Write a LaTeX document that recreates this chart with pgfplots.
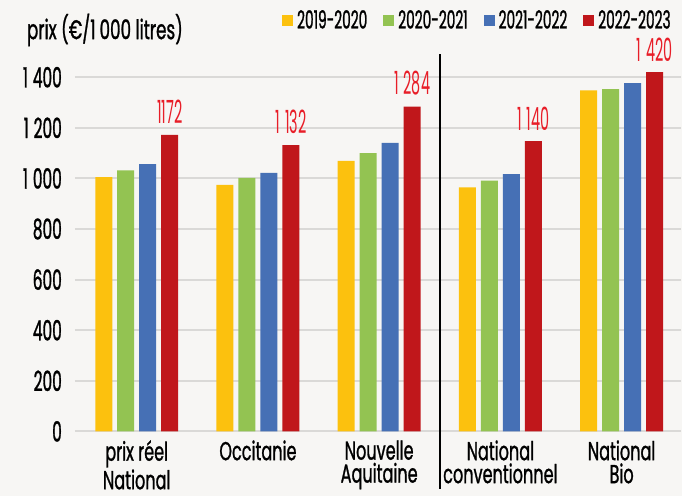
\documentclass[border=0pt]{standalone}
\usepackage{pgfplots}
\pgfplotsset{compat=1.18}
\usepackage{fontspec}
\setmainfont{Poppins}[FakeStretch=0.62, FakeBold=1]
\newfontfamily\numfont{Poppins}[FakeStretch=0.55, FakeBold=1]
\newfontfamily\labfont{Poppins}[FakeStretch=0.45]
\usetikzlibrary{backgrounds}

\definecolor{bgcol}{RGB}{247,246,244}
\definecolor{cjaune}{RGB}{252,193,14}
\definecolor{cvert}{RGB}{147,195,82}
\definecolor{cbleu}{RGB}{70,112,181}
\definecolor{crouge}{RGB}{192,23,27}
\definecolor{clabel}{RGB}{232,30,40}
\definecolor{cgrille}{RGB}{218,217,215}

\begin{document}
\begin{tikzpicture}[show background rectangle,
  background rectangle/.style={fill=bgcol, draw=none},
  inner frame sep=0pt]
\begin{axis}[
  name=ax,
  scale only axis,
  width=303.5pt, height=190pt,
  ybar=2.5pt, bar width=8.5pt,
  xmin=-0.51, xmax=4.49,
  ymin=0, ymax=1500,
  ytick={0,200,...,1400},
  xtick=data,
  xticklabels={{prix réel\\National},Occitanie,{Nouvelle\\Aquitaine},{National\\conventionnel},{National\\Bio}},
  xticklabel style={align=center, font=\fontsize{13}{11.5}\selectfont, yshift=-1pt},
  yticklabel style={font=\numfont\fontsize{14}{14}\selectfont, xshift=-3pt},
  /pgf/number format/.cd, 1000 sep={\hspace{2.5pt}}, assume math mode=true,
  /pgfplots/.cd,
  axis line style={draw=none},
  major tick length=0pt,
  ymajorgrids,
  major grid style={cgrille, line width=1pt},
  clip=false,
  legend columns=4,
  legend style={draw=none, fill=none, at={(1,1)}, anchor=south east,
    yshift=6pt, font=\numfont\fontsize{12.5}{12.5}\selectfont,
    /tikz/every even column/.append style={column sep=6pt}},
  legend image code/.code={\fill[#1] (0pt,-2.75pt) rectangle (5.5pt,2.75pt);},
]
\addplot[fill=cjaune, draw=none] coordinates {(0,1005) (1,974) (2,1069) (3,965) (4,1348)};
\addlegendentry{2019-2020}
\addplot[fill=cvert, draw=none] coordinates {(0,1032) (1,1002) (2,1100) (3,991) (4,1353)};
\addlegendentry{2020-2021}
\addplot[fill=cbleu, draw=none] coordinates {(0,1056) (1,1022) (2,1140) (3,1017) (4,1377)};
\addlegendentry{2021-2022}
\addplot[fill=crouge, draw=none,
  point meta=explicit symbolic,
  nodes near coords,
  nodes near coords style={text=clabel, font=\labfont\fontsize{16}{16}\selectfont, yshift=2pt}]
  coordinates {(0,1172)[1172] (1,1132)[1\hspace{2.5pt}132] (2,1284)[1\hspace{2.5pt}284]
    (3,1147)[1\hspace{2.5pt}140] (4,1420)[1\hspace{2.5pt}420]};
\addlegendentry{2022-2023}

\draw[black, line width=1pt] (axis cs:2.5,1490) -- (axis cs:2.5,-228);
\node[anchor=west, font=\fontsize{13.5}{13.5}\selectfont] at ([yshift=11pt]axis description cs:-0.0906,1) {prix (€/1\hspace{2pt}000 litres)};
\end{axis}
\path[use as bounding box] ([xshift=-37.5pt,yshift=-31.5pt]ax.south west) rectangle ([yshift=26pt]ax.north east);
\end{tikzpicture}
\end{document}
